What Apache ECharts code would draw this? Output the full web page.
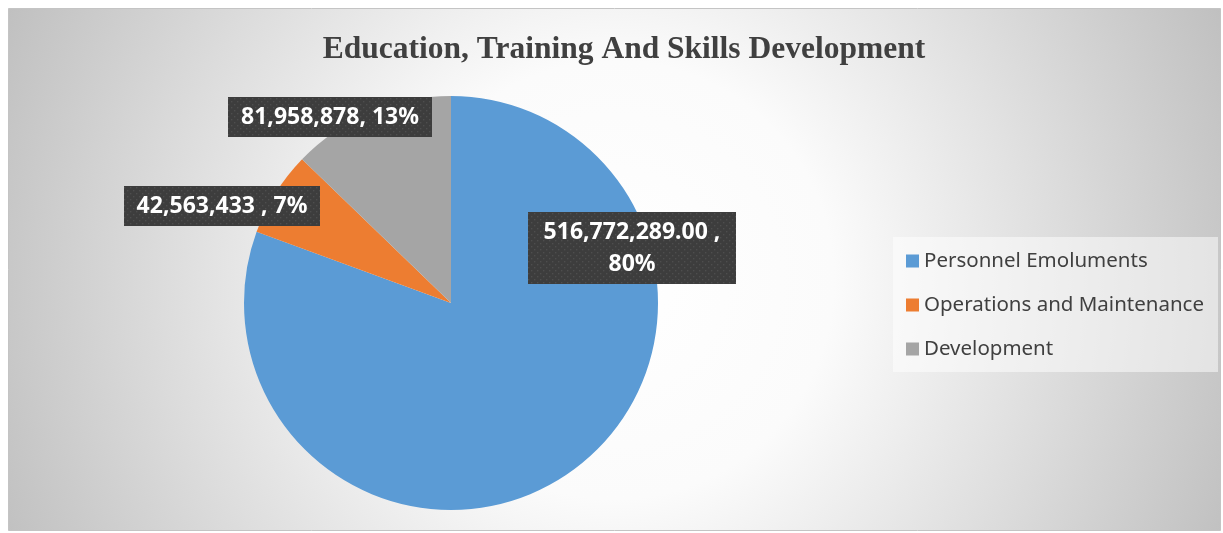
<!DOCTYPE html>
<html>
<head>
<meta charset="utf-8">
<title>Education, Training And Skills Development</title>
<script src="https://cdn.jsdelivr.net/npm/echarts@6/dist/echarts.min.js"></script>
<style>
  html, body { margin: 0; padding: 0; background: #ffffff; }
  #chart { width: 1223px; height: 533px; }
</style>
</head>
<body>
<div id="chart"></div>
<script>
// Budget breakdown for the sector
const titleText = 'Education, Training And Skills Development';
const categories = ['Personnel Emoluments', 'Operations and Maintenance', 'Development'];
const values = [516772289, 42563433, 81958878];
const valueDecimals = [2, 0, 0];
const labelSeparators = [' ,\n', ' , ', ', '];
const colors = ['#5B9BD5', '#ED7D31', '#A5A5A5'];

// Label boxes: centre point, content width and number of text lines
const labelBoxes = [
  { x: 632, y: 248, width: 188, lines: 2 },
  { x: 222, y: 206, width: 176, lines: 1 },
  { x: 330, y: 117, width: 184, lines: 1 }
];
const LABEL_PAD_X = 10, LABEL_PAD_Y = 4, LABEL_LINE = 32;

// Dark dotted fill used behind the data labels
function dotPattern(w, h) {
  const c = document.createElement('canvas');
  c.width = w; c.height = h;
  const g = c.getContext('2d');
  g.fillStyle = '#3d3d3d';
  g.fillRect(0, 0, w, h);
  g.fillStyle = '#4e4e4e';
  for (let y = 1, row = 0; y < h; y += 3, row++) {
    for (let x = (row % 2) ? 3 : 0; x < w; x += 6) {
      g.fillRect(x, y, 1.4, 1.4);
    }
  }
  return c;
}

function formatNumber(v, decimals) {
  return v.toLocaleString('en-US', { minimumFractionDigits: decimals, maximumFractionDigits: decimals });
}

const seriesData = categories.map((name, i) => {
  const b = labelBoxes[i];
  const boxW = b.width + 2 * LABEL_PAD_X;
  const boxH = b.lines * LABEL_LINE + 2 * LABEL_PAD_Y;
  return {
    name: name,
    value: values[i],
    itemStyle: { color: colors[i] },
    label: {
      width: b.width,
      backgroundColor: { image: dotPattern(boxW, boxH) }
    }
  };
});

const chart = echarts.init(document.getElementById('chart'), null, { renderer: 'canvas' });

chart.setOption({
  animation: false,
  graphic: [{
    type: 'rect',
    z: -10,
    silent: true,
    shape: { x: 8.5, y: 8.5, width: 1212, height: 522 },
    style: {
      fill: {
        type: 'radial', x: 0.5, y: 0.52, r: 1.27,
        colorStops: [
          { offset: 0, color: '#ffffff' },
          { offset: 0.33, color: '#fbfbfb' },
          { offset: 1, color: '#c0c0c0' }
        ]
      },
      stroke: '#c4c4c4',
      lineWidth: 1
    }
  }],
  title: {
    text: titleText,
    left: 619,
    top: 29,
    textAlign: 'center',
    textStyle: {
      fontFamily: '"Liberation Serif", "Times New Roman", serif',
      fontWeight: 'bold',
      fontSize: 31.5,
      color: '#404040'
    }
  },
  legend: {
    orient: 'vertical',
    left: 893,
    top: 237,
    padding: [12, 14, 11, 13],
    backgroundColor: 'rgba(255,255,255,0.5)',
    itemWidth: 13,
    itemHeight: 13,
    itemGap: 20,
    icon: 'rect',
    data: categories,
    textStyle: {
      fontFamily: '"Noto Sans", sans-serif',
      fontSize: 20.5,
      lineHeight: 24,
      color: '#404040'
    }
  },
  series: [{
    type: 'pie',
    center: [451, 303],
    radius: 207,
    startAngle: 90,
    clockwise: true,
    percentPrecision: 0,
    data: seriesData,
    itemStyle: { borderWidth: 0 },
    labelLine: { show: false },
    emphasis: { disabled: true },
    label: {
      show: true,
      position: 'outside',
      color: '#ffffff',
      fontFamily: '"Noto Sans", sans-serif',
      fontWeight: 'bold',
      fontSize: 23,
      lineHeight: LABEL_LINE,
      align: 'center',
      padding: [LABEL_PAD_Y, LABEL_PAD_X],
      shadowColor: 'rgba(0,0,0,0.45)',
      shadowBlur: 7,
      shadowOffsetX: 3,
      shadowOffsetY: 3,
      formatter: (p) => formatNumber(p.value, valueDecimals[p.dataIndex]) +
        labelSeparators[p.dataIndex] + p.percent + '%'
    },
    labelLayout: (p) => ({
      x: labelBoxes[p.dataIndex].x,
      y: labelBoxes[p.dataIndex].y,
      align: 'center',
      verticalAlign: 'middle',
      hideOverlap: false
    })
  }]
});
</script>
</body>
</html>
